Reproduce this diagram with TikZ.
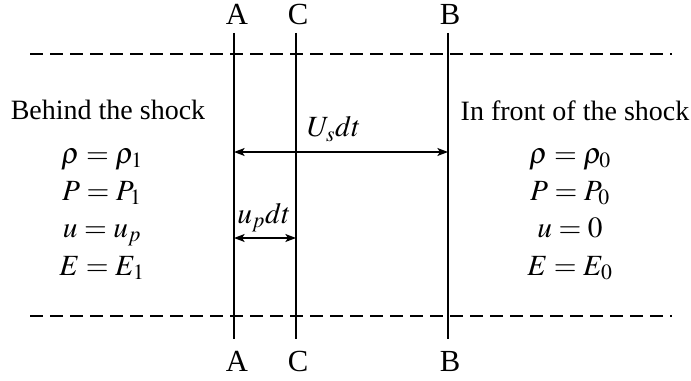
\documentclass[tikz,border=0pt]{standalone}
\usepackage{mathptmx}
\usepackage[no-math]{fontspec}
\setmainfont{Liberation Serif}
\usetikzlibrary{arrows.meta}

\begin{document}
\begin{tikzpicture}[x=0.75pt, y=-0.75pt,
  wall/.style={line width=1.3pt},
  front/.style={line width=1.3pt, dash pattern=on 9.75pt off 5.25pt},
  span/.style={{Stealth[length=8pt, width=6pt, inset=2pt]}-{Stealth[length=8pt, width=6pt, inset=2pt]}, line width=1pt},
  tag/.style={anchor=base, inner sep=0pt, font=\fontsize{21}{25}\selectfont},
  secname/.style={anchor=base, inner sep=0pt, font=\fontsize{23}{27}\selectfont},
  state/.style={anchor=base, inner sep=0pt, font=\fontsize{22}{26}\selectfont}]
 \useasboundingbox (0,0) rectangle (691,381);

 % shock front and section lines
 \coordinate (frontTL) at (30,54);
 \coordinate (frontTR) at (672,54);
 \coordinate (frontBL) at (30,316);
 \coordinate (frontBR) at (672,316);
 \draw[front] (frontTL) -- (frontTR);
 \draw[front] (frontBL) -- (frontBR);

 \coordinate (wallAt) at (234,33);
 \coordinate (wallAb) at (234,339);
 \coordinate (wallCt) at (296,33);
 \coordinate (wallCb) at (296,339);
 \coordinate (wallBt) at (448,33);
 \coordinate (wallBb) at (448,339);
 \draw[wall] (wallAt) -- (wallAb);
 \draw[wall] (wallCt) -- (wallCb);
 \draw[wall] (wallBt) -- (wallBb);

 \node[secname] (labAt) at (237,25) {A};
 \node[secname] (labCt) at (298,25) {C};
 \node[secname] (labBt) at (450,25) {B};
 \node[secname] (labAb) at (237,371) {A};
 \node[secname] (labCb) at (298,371) {C};
 \node[secname] (labBb) at (450,371) {B};

 % behind the shock
 \node[tag] (behind) at (108,120) {Behind the shock};
 \node[state] (rho1) at (102,163) {$\rho=\rho_1$};
 \node[state] (p1) at (102,200) {$P=P_1$};
 \node[state] (u1) at (102,237) {$u=u_p$};
 \node[state] (e1) at (102,275) {$E=E_1$};

 % in front of the shock
 \node[tag] (infront) at (575,121) {In front of the shock};
 \node[state] (rho0) at (570,163) {$\rho=\rho_0$};
 \node[state] (p0) at (570,200) {$P=P_0$};
 \node[state] (u0) at (570,237) {$u=0$};
 \node[state] (e0) at (570,275) {$E=E_0$};

 % distances travelled in dt
 \coordinate (usA) at (234,152);
 \coordinate (usB) at (448,152);
 \draw[span] (usA) -- (usB);
 \node[state] (usdt) at (334,137) {$U_s dt$};

 \coordinate (upA) at (234,238);
 \coordinate (upC) at (296,238);
 \draw[span] (upA) -- (upC);
 \node[state] (updt) at (264,223) {$u_p dt$};
\end{tikzpicture}
\end{document}
